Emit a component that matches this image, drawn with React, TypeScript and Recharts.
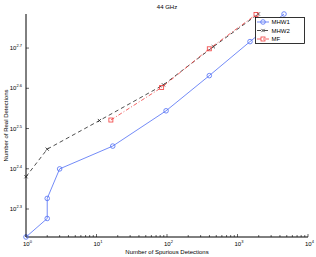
import React from 'react';
import { ScatterChart, Scatter, XAxis, YAxis, Legend } from 'recharts';

// values (log-log axes)
const mhw1X = [1, 2, 2, 3, 17, 97, 398, 1504, 4570];
const mhw1Y = [170, 189, 212, 251, 286, 350, 428, 520, 609];
const mhw2X = [1, 2, 11, 89, 454, 1973];
const mhw2Y = [240, 281, 331, 406, 505, 609];
const mfX = [16, 84, 398, 1830];
const mfY = [332, 400, 499, 607];

const xMajor = [1, 10, 100, 1000, 10000];
const xMinorSteps = [2, 3, 4, 5, 6, 7, 8, 9];
const yExps = [2.3, 2.4, 2.5, 2.6, 2.7];
const yDomain = [170, 609];

const FONT = '"Liberation Sans", Arial, Helvetica, sans-serif';

const zip = (xs: number[], ys: number[]) => xs.map((x, i) => ({ x, y: ys[i] }));

const xTicks = [
  ...xMajor,
  ...xMajor.slice(0, -1).flatMap((d) => xMinorSteps.map((m) => d * m)),
].sort((a, b) => a - b);
const yTicks = yExps.map((e) => Math.pow(10, e));

type Marker = 'circle' | 'x' | 'square';

const series: { name: string; data: { x: number; y: number }[]; color: string; dash?: string; marker: Marker }[] = [
  { name: 'MHW1', data: zip(mhw1X, mhw1Y), color: '#4f6df5', marker: 'circle' },
  { name: 'MHW2', data: zip(mhw2X, mhw2Y), color: '#222', dash: '4 3', marker: 'x' },
  { name: 'MF', data: zip(mfX, mfY), color: '#f03c3c', dash: '4 2 1 2', marker: 'square' },
];

const drawMarker = (kind: Marker, cx: number, cy: number, color: string) => {
  if (kind === 'circle') return <circle cx={cx} cy={cy} r={2.3} fill="none" stroke={color} strokeWidth={0.8} />;
  if (kind === 'square')
    return <rect x={cx - 2} y={cy - 2} width={4} height={4} fill="none" stroke={color} strokeWidth={0.8} />;
  return (
    <g stroke={color} strokeWidth={0.8}>
      <line x1={cx - 1.6} y1={cy - 1.6} x2={cx + 1.6} y2={cy + 1.6} />
      <line x1={cx - 1.6} y1={cy + 1.6} x2={cx + 1.6} y2={cy - 1.6} />
    </g>
  );
};

const isMajor = (v: number) => xMajor.includes(v);

const XTick = (props: any) => {
  const { x, y, payload, side } = props;
  const v = payload.value;
  const len = isMajor(v) ? 3 : 2;
  const dir = side === 'top' ? 1 : -1;
  return (
    <g>
      <line x1={x} x2={x} y1={y} y2={y + dir * len} stroke="#000" strokeWidth={0.6} />
      {side === 'bottom' && isMajor(v) && (
        <text x={x - 3} y={y + 9} fontSize={6} fontFamily={FONT} fill="#000">
          10
          <tspan dy={-3} fontSize={4}>
            {Math.round(Math.log10(v))}
          </tspan>
        </text>
      )}
    </g>
  );
};

const YTick = (props: any) => {
  const { x, y, payload, side } = props;
  const dir = side === 'left' ? 1 : -1;
  return (
    <g>
      <line x1={x} x2={x + dir * 3} y1={y} y2={y} stroke="#000" strokeWidth={0.6} />
      {side === 'left' && (
        <text x={x - 4} y={y + 2} fontSize={6} fontFamily={FONT} fill="#000" textAnchor="end">
          10
          <tspan dy={-3} fontSize={4}>
            {Math.log10(payload.value).toFixed(1)}
          </tspan>
        </text>
      )}
    </g>
  );
};

const LegendBox = () => (
  <svg width={50} height={27} style={{ display: 'block' }}>
    <rect x={0.5} y={0.5} width={49} height={26} fill="#fff" stroke="#000" strokeWidth={0.8} />
    {series.map((s, i) => {
      const cy = 5 + i * 8.5;
      return (
        <g key={s.name}>
          <line x1={2} x2={14} y1={cy} y2={cy} stroke={s.color} strokeWidth={0.8} strokeDasharray={s.dash} />
          {drawMarker(s.marker, 8, cy, s.color)}
          <text x={16.5} y={cy + 2} fontSize={6} fontFamily={FONT} fill="#000">
            {s.name}
          </text>
        </g>
      );
    })}
  </svg>
);

export default function App() {
  return (
    <div style={{ position: 'absolute', left: 0, top: 0, background: '#fff' }}>
      <ScatterChart width={316} height={257} margin={{ top: 14, right: 8, bottom: 0, left: 0 }}>
        <XAxis
          xAxisId="b"
          dataKey="x"
          type="number"
          scale="log"
          domain={[1, 10000]}
          ticks={xTicks}
          interval={0}
          height={20}
          tickSize={0}
          tickMargin={0}
          tickLine={false}
          axisLine={{ stroke: '#000', strokeWidth: 1 }}
          tick={(p: any) => <XTick {...p} side="bottom" />}
          label={{
            content: (lp: any) => {
              const vb = lp.viewBox;
              return (
                <text x={vb.x + vb.width / 2} y={vb.y + 17} fontSize={6} fontFamily={FONT} textAnchor="middle" fill="#000">
                  Number of Spurious Detections
                </text>
              );
            },
          }}
        />
        <XAxis
          xAxisId="t"
          orientation="top"
          type="number"
          scale="log"
          domain={[1, 10000]}
          ticks={xTicks}
          interval={0}
          height={0}
          tickSize={0}
          tickMargin={0}
          tickLine={false}
          axisLine={{ stroke: '#000', strokeWidth: 1 }}
          tick={(p: any) => <XTick {...p} side="top" />}
        />
        <YAxis
          yAxisId="l"
          dataKey="y"
          type="number"
          scale="log"
          domain={yDomain}
          ticks={yTicks}
          interval={0}
          width={26}
          tickSize={0}
          tickMargin={0}
          tickLine={false}
          axisLine={{ stroke: '#000', strokeWidth: 1 }}
          tick={(p: any) => <YTick {...p} side="left" />}
          label={{
            content: (lp: any) => {
              const vb = lp.viewBox;
              const cx = 8;
              const cy = vb.y + vb.height / 2;
              return (
                <text
                  x={cx}
                  y={cy}
                  fontSize={6}
                  fontFamily={FONT}
                  textAnchor="middle"
                  fill="#000"
                  transform={`rotate(-90 ${cx} ${cy})`}
                >
                  Number of Real Detections
                </text>
              );
            },
          }}
        />
        <YAxis
          yAxisId="r"
          orientation="right"
          type="number"
          scale="log"
          domain={yDomain}
          ticks={yTicks}
          interval={0}
          width={0}
          tickSize={0}
          tickMargin={0}
          tickLine={false}
          axisLine={{ stroke: '#000', strokeWidth: 1 }}
          tick={(p: any) => <YTick {...p} side="right" />}
        />
        <Legend
          layout="horizontal"
          verticalAlign="middle"
          align="center"
          content={() => <LegendBox />}
          wrapperStyle={{ position: 'absolute', left: 255, top: 17, width: 50, height: 27 }}
        />
        {series.map((s) => (
          <Scatter
            key={s.name}
            name={s.name}
            xAxisId="b"
            yAxisId="l"
            data={s.data}
            fill="none"
            line={{ stroke: s.color, strokeWidth: 0.8, strokeDasharray: s.dash }}
            lineType="joint"
            isAnimationActive={false}
            shape={(p: any) => drawMarker(s.marker, p.cx, p.cy, s.color)}
          />
        ))}
        <text x={167} y={9} fontSize={6} fontFamily={FONT} textAnchor="middle" fill="#000">
          44 GHz
        </text>
      </ScatterChart>
    </div>
  );
}
